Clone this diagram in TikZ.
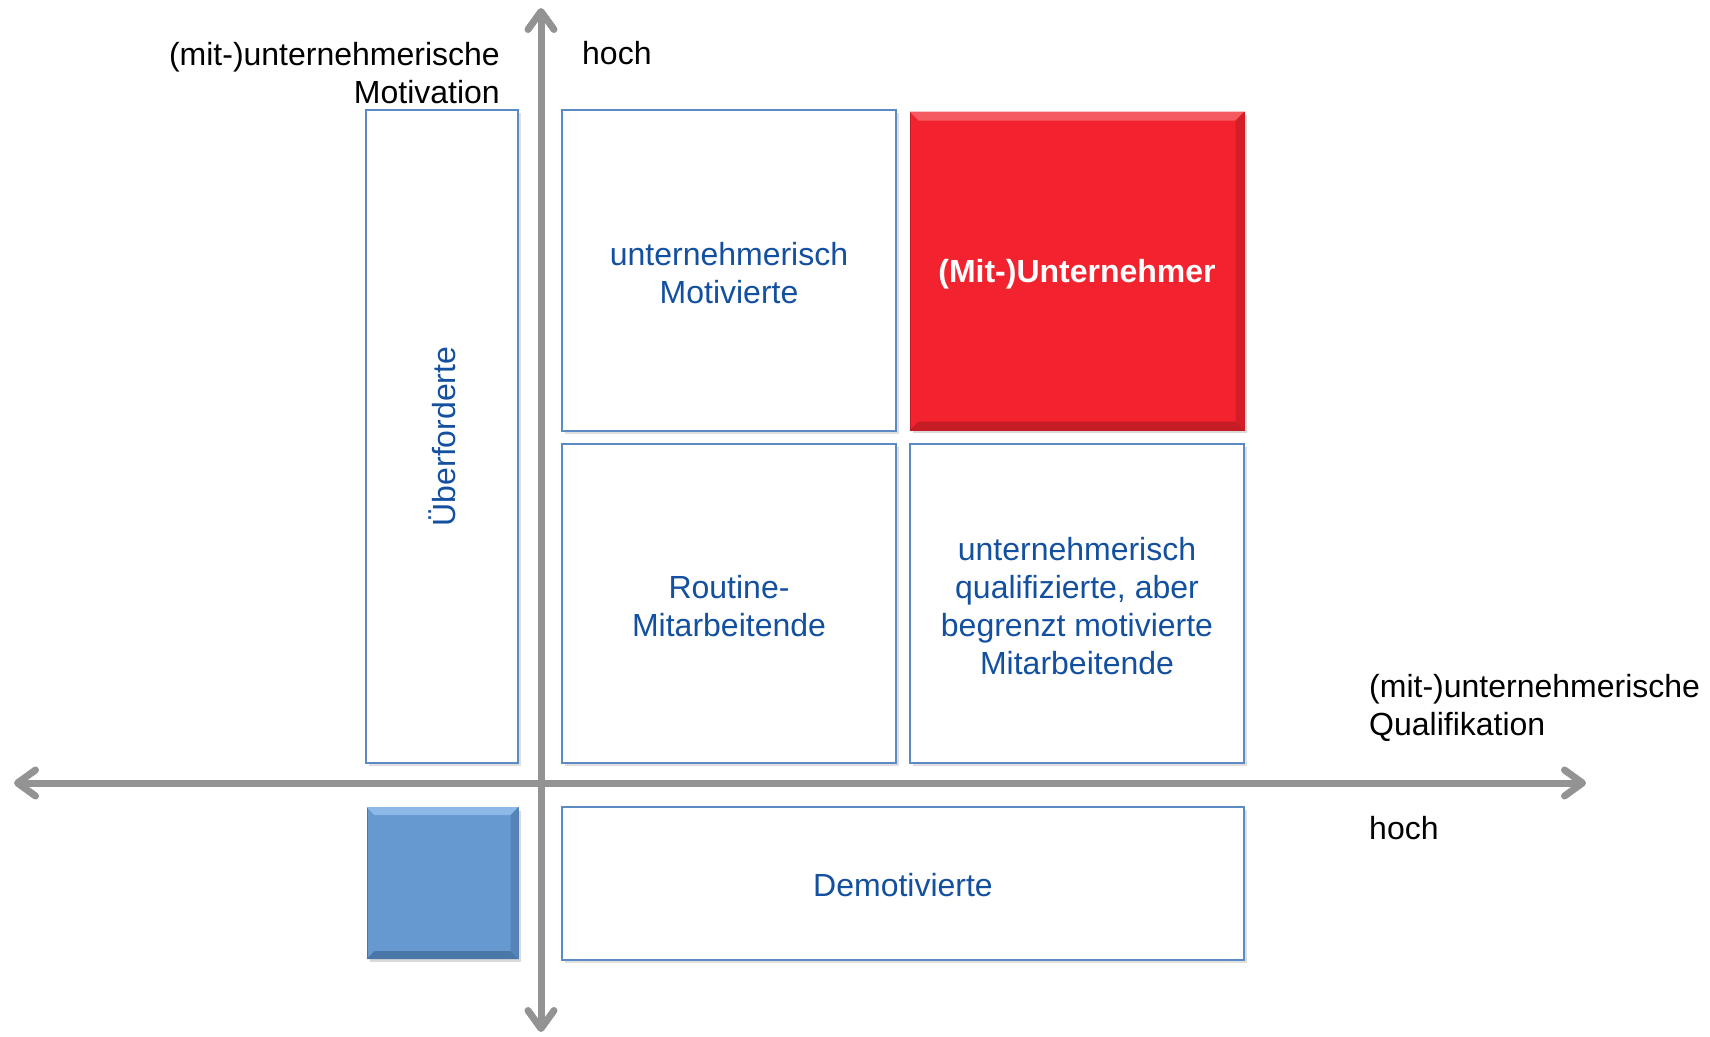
\documentclass[tikz,border=0pt]{standalone}
\usepackage{fontspec}
\setmainfont{Liberation Sans}
\usetikzlibrary{arrows.meta,shadows}
\definecolor{axisgray}{HTML}{939393}
\definecolor{txtblue}{HTML}{1450A0}
\definecolor{boxline}{HTML}{5B8BC5}
\definecolor{redfill}{HTML}{F2232E}
\definecolor{redlight}{HTML}{F65A61}
\definecolor{reddark}{HTML}{C51C25}
\definecolor{bluefill}{HTML}{6699D0}
\definecolor{bluelight}{HTML}{8DB8E8}
\definecolor{bluedark}{HTML}{4A76A8}
\tikzset{axtip/.tip={Straight Barb[length=18pt,width=26pt,line cap=round,round]}}
\begin{document}
\begin{tikzpicture}[x=1pt,y=-1pt,
  font=\fontsize{32}{38}\selectfont,
  quad/.style={draw=boxline, line width=2.5pt, fill=white, inner sep=0pt,
    drop shadow={opacity=0.25, shadow xshift=3pt, shadow yshift=-3pt}},
  solidred/.style={fill=redfill, draw=reddark, line width=1pt, inner sep=0pt,
    drop shadow={opacity=0.3, shadow xshift=3pt, shadow yshift=-3pt}},
  solidblue/.style={fill=bluefill, draw=bluedark, line width=1pt, inner sep=0pt,
    drop shadow={opacity=0.3, shadow xshift=3pt, shadow yshift=-3pt}},
  qtext/.style={text=txtblue, align=center, inner sep=0pt},
  rtext/.style={text=white, align=center, inner sep=0pt, font=\fontsize{32}{38}\selectfont\bfseries},
  axis/.style={draw=axisgray, line width=7pt, axtip-axtip},
  lbl/.style={text=black, inner sep=0pt}
]
\useasboundingbox (0,0) rectangle (1710,1036);

% axes
\coordinate (xl) at (14,783);
\coordinate (xr) at (1586,783);
\coordinate (yt) at (541,8);
\coordinate (yb) at (541,1032);
\draw[axis] (xl) -- (xr);
\draw[axis] (yt) -- (yb);

% boxes
\node[quad, minimum width=152, minimum height=653] (ueber) at (442,436.5) {};
\node[quad, minimum width=334, minimum height=321] (motiv) at (729,270.5) {};
\node[solidred, minimum width=334, minimum height=318] (unt) at (1077,271) {};
\node[quad, minimum width=334, minimum height=319] (routine) at (729,603.5) {};
\node[quad, minimum width=334, minimum height=319] (quali) at (1077,603.5) {};
\node[solidblue, minimum width=151, minimum height=151] (blue) at (442.5,883) {};
\node[quad, minimum width=682, minimum height=153] (demot) at (903,883.5) {};

% bevels red
\fill[redlight] (unt.north west) -- (unt.north east) -- ([shift={(-9,9)}]unt.north east) -- ([shift={(9,9)}]unt.north west) -- cycle;
\fill[reddark] (unt.south west) -- (unt.south east) -- ([shift={(-9,-9)}]unt.south east) -- ([shift={(9,-9)}]unt.south west) -- cycle;
\fill[reddark!70!redfill] (unt.north east) -- (unt.south east) -- ([shift={(-9,-9)}]unt.south east) -- ([shift={(-9,9)}]unt.north east) -- cycle;
% bevels blue
\fill[bluelight] (blue.north west) -- (blue.north east) -- ([shift={(-8,8)}]blue.north east) -- ([shift={(8,8)}]blue.north west) -- cycle;
\fill[bluedark] (blue.south west) -- (blue.south east) -- ([shift={(-8,-8)}]blue.south east) -- ([shift={(8,-8)}]blue.south west) -- cycle;
\fill[bluedark!60!bluefill] (blue.north east) -- (blue.south east) -- ([shift={(-8,-8)}]blue.south east) -- ([shift={(-8,8)}]blue.north east) -- cycle;

% box texts
\node[qtext, rotate=90] (uebertxt) at (ueber.center) {Überforderte};
\node[qtext] (motivtxt) at ([yshift=-3pt]motiv.center) {unternehmerisch\\Motivierte};
\node[rtext] (unttxt) at ([yshift=-3pt]unt.center) {(Mit-)Unternehmer};
\node[qtext] (routinetxt) at ([yshift=-3pt]routine.center) {Routine-\\Mitarbeitende};
\node[qtext] (qualitxt) at ([yshift=-3pt]quali.center) {unternehmerisch\\qualifizierte, aber\\begrenzt motivierte\\Mitarbeitende};
\node[qtext] (demottxt) at ([yshift=-2pt]demot.center) {Demotivierte};

% axis labels
\node[lbl, align=right, anchor=east] (ylab) at (500,73) {(mit-)unternehmerische\\Motivation};
\node[lbl, anchor=west] (yhoch) at (582,53.5) {hoch};
\node[lbl, align=left, anchor=west] (xlab) at (1369,708) {(mit-)unternehmerische\\Qualifikation};
\node[lbl, anchor=west] (xhoch) at (1369,828) {hoch};
\end{tikzpicture}
\end{document}
